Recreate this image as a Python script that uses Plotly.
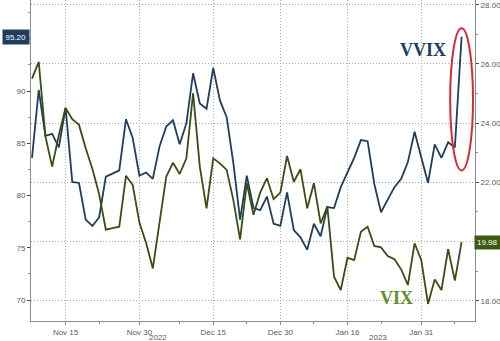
import plotly.graph_objects as go

# ---- data ----
vvix = [83.6, 90.1, 85.7, 85.9, 84.6, 88.4, 81.3, 81.2, 77.7, 77.1,
        77.9, 81.8, 82.1, 82.4, 87.3, 85.5, 81.9, 82.2, 81.6, 84.7,
        86.6, 87.2, 84.9, 86.9, 91.7, 88.8, 88.3, 92.2, 89.1, 87.5,
        83.1, 77.7, 81.9, 78.8, 78.6, 79.9, 77.3, 77.1, 80.3, 76.7,
        76.0, 74.8, 77.3, 76.1, 78.9, 78.8, 80.8, 82.2, 83.6, 85.3,
        85.2, 81.1, 78.4, 79.6, 80.8, 81.6, 83.2, 86.1, 83.6, 81.2,
        84.9, 83.6, 85.1, 84.6, 95.2]
vix = [25.5, 26.07, 23.55, 22.53, 23.6, 24.51, 24.13, 23.94, 23.15, 22.45,
       21.6, 20.4, 20.45, 20.5, 22.22, 21.91, 20.64, 19.95, 19.09, 20.67,
       22.19, 22.66, 22.28, 22.81, 25.01, 22.53, 21.12, 22.81, 22.64, 22.42,
       21.4, 20.07, 21.97, 20.9, 21.65, 22.14, 21.43, 21.65, 22.89, 22.02,
       22.44, 21.12, 21.97, 20.61, 21.18, 18.81, 18.36, 19.45, 19.37, 20.33,
       20.5, 19.85, 19.8, 19.51, 19.4, 19.06, 18.53, 19.94, 19.37, 17.89,
       18.72, 18.36, 19.74, 18.68, 19.98]
session = list(range(len(vvix)))          # trading-session index

x_tick_pos = [5, 16, 27, 37, 47, 58]
x_tick_text = ["Nov 15", "Nov 30", "Dec 15", "Dec 30", "Jan 16", "Jan 31"]
x_minor_pos = [10, 22, 32, 42, 52, 63]
year_pos = [18.7, 51.5]
year_text = ["2022", "2023"]

left_ticks = [70, 75, 80, 85, 90]
right_ticks = [18, 20, 22, 24, 26, 28]
right_text = ["18.00", "", "22.00", "24.00", "26.00", "28.00"]

NAVY = "#1f3d5c"
OLIVE = "#3b4d12"
VIXTXT = "#5e8f2b"
AX = "#8c8c8c"
GRID = "#a8a8a8"
TXT = "#5a5a5a"
FONT = "Liberation Sans"
DOT = "1px,2px"

fig = go.Figure()
fig.add_trace(go.Scatter(x=session, y=vvix, mode="lines", name="VVIX",
                         line=dict(color=NAVY, width=1.8), yaxis="y"))
fig.add_trace(go.Scatter(x=session, y=vix, mode="lines", name="VIX",
                         line=dict(color=OLIVE, width=1.8), yaxis="y2"))

fig.update_layout(
    width=500, height=341,
    margin=dict(l=31, r=25, t=0, b=20),
    paper_bgcolor="white", plot_bgcolor="white",
    showlegend=False,
    font=dict(family=FONT, size=8, color=TXT),
    xaxis=dict(range=[-0.15, 66], tickmode="array", tickvals=x_tick_pos,
               ticktext=x_tick_text, showgrid=True, gridcolor=GRID,
               griddash=DOT, gridwidth=1, zeroline=False,
               showline=True, linecolor=AX, linewidth=1,
               ticks="outside", ticklen=3, tickcolor=AX,
               minor=dict(tickvals=x_minor_pos, ticks="outside", ticklen=2,
                          tickcolor=AX, showgrid=False),
               automargin=False, tickfont=dict(size=8, color=TXT)),
    yaxis=dict(range=[67.99, 98.71], tickmode="array", tickvals=left_ticks,
               showgrid=False, zeroline=False, showline=True,
               linecolor=AX, linewidth=1, ticks="outside", ticklen=3,
               tickcolor="#444", minor=dict(dtick=2.5, tick0=0, ticks="outside",
                                            ticklen=2, tickcolor=AX, showgrid=False),
               automargin=False, tickfont=dict(size=8, color=TXT)),
    yaxis2=dict(range=[17.314, 28.159], overlaying="y", side="right",
                tickmode="array", tickvals=right_ticks, ticktext=right_text,
                showgrid=True, gridcolor=GRID, griddash=DOT, gridwidth=1,
                zeroline=False, showline=True, linecolor=AX, linewidth=1,
                ticks="outside", ticklen=3, tickcolor="#444",
                minor=dict(dtick=1, tick0=0, ticks="outside", ticklen=2,
                           tickcolor=AX, showgrid=False),
                automargin=False, tickfont=dict(size=8, color=TXT)),
)

# year labels under the date axis
for p, t in zip(year_pos, year_text):
    fig.add_annotation(x=p, xref="x", y=-0.05, yref="paper", text=t,
                       showarrow=False, font=dict(size=8, color=TXT),
                       yanchor="middle")

# last-value badges
fig.add_annotation(x=-0.034, xref="paper", y=vvix[-1], yref="y",
                   text=f"{vvix[-1]:.2f}", showarrow=False,
                   font=dict(size=8, color="white"), bgcolor=NAVY,
                   borderpad=2.5, xanchor="center")
fig.add_annotation(x=1.028, xref="paper", y=vix[-1], yref="y2",
                   text=f"{vix[-1]:.2f}", showarrow=False,
                   font=dict(size=8, color="white"), bgcolor="#3d5a14",
                   borderpad=2, xanchor="center")

# series titles
fig.add_annotation(x=58.3, xref="x", y=93.9, yref="y", text="<b>VVIX</b>",
                   showarrow=False, xanchor="center", yanchor="middle",
                   font=dict(family="Liberation Serif", size=18, color=NAVY))
fig.add_annotation(x=54.3, xref="x", y=18.1, yref="y2", text="<b>VIX</b>",
                   showarrow=False, xanchor="center", yanchor="middle",
                   font=dict(family="Liberation Serif", size=18, color=VIXTXT))

# red ellipse around the spike
fig.add_shape(type="circle", xref="x", yref="y", x0=62.3, x1=65.7,
              y0=82.4, y1=96.0, line=dict(color="#d42a34", width=2))

fig.write_html("out.html")
